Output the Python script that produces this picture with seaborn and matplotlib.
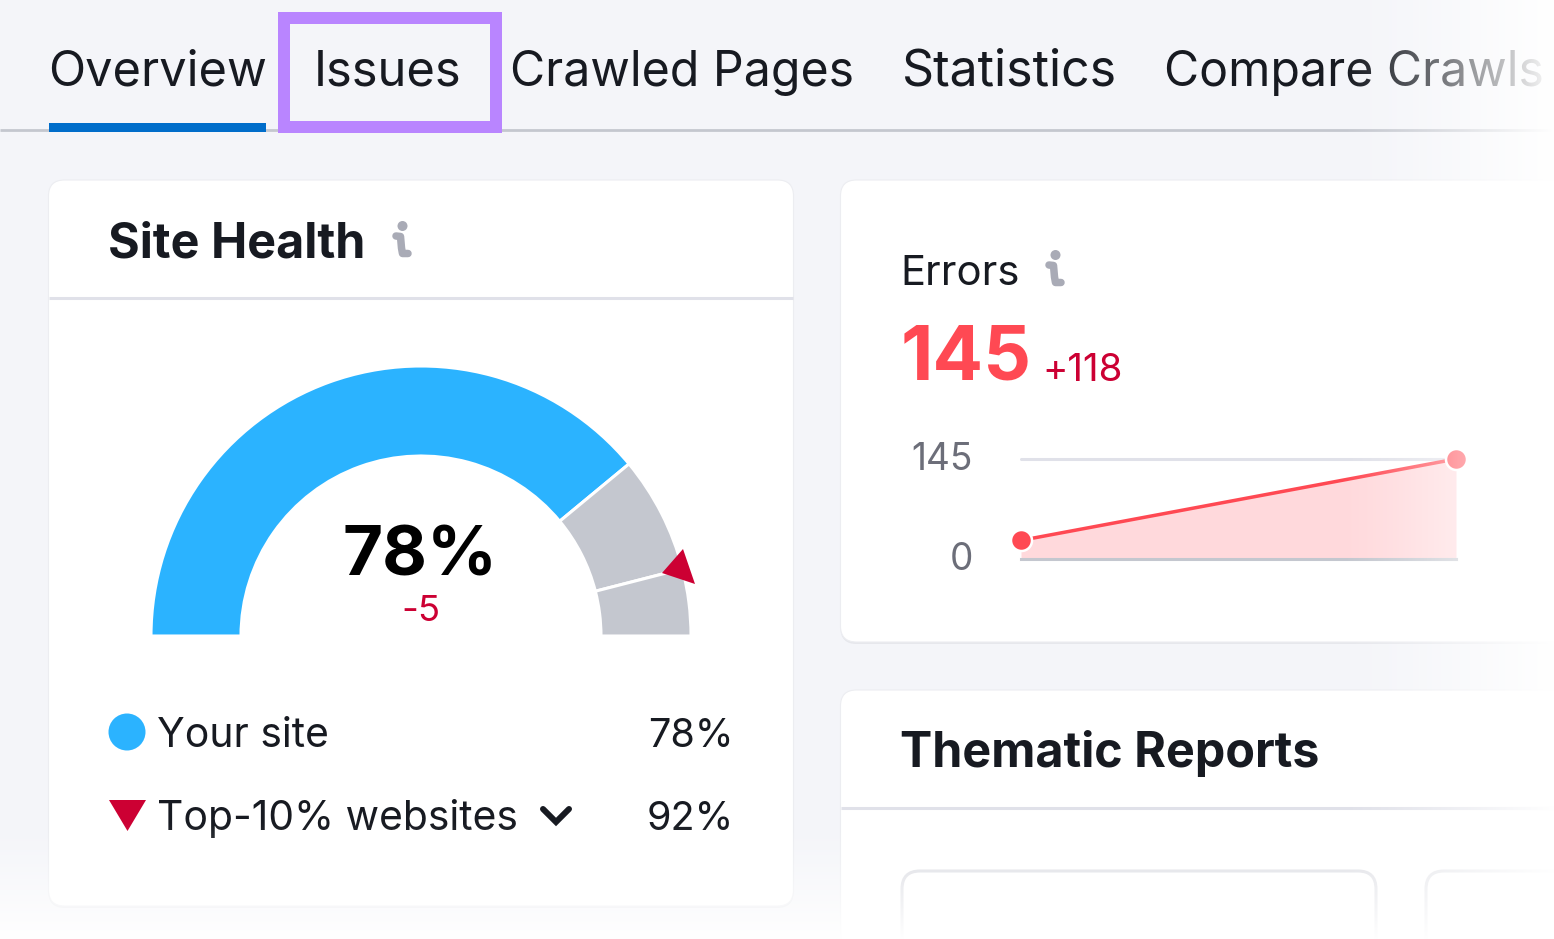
import numpy as np
import pandas as pd
import matplotlib
matplotlib.use("Agg")
import matplotlib.pyplot as plt
from matplotlib.patches import FancyBboxPatch, Polygon, Rectangle, Circle
from matplotlib.transforms import ScaledTranslation
import seaborn as sns

# ---- data ----
tab_labels = ["Overview", "Issues", "Crawled Pages", "Statistics", "Compare Crawls"]
gauge_parts = ["Your site", "Gap to top-10%", "Rest", "Hidden"]
gauge_values = [78, 14, 8, 100]
site_score = "78%"
site_delta = "-5"
legend_labels = ["Your site", "Top-10% websites"]
legend_values = ["78%", "92%"]
errors_title = "Errors"
errors_total = "145"
errors_delta = "+118"
crawl_index = [0, 1]
crawl_errors = [27, 145]
error_ticks = [0, 145]
panel_titles = ["Site Health", "Thematic Reports"]

W, H = 1554, 939
BG = "#F4F5F9"
INK = "#171A21"
BLUE = "#2BB3FF"
GREY = "#C4C7CF"
RED = "#FF4953"
CRIMSON = "#CC0033"
LINE = "#E0E1E9"
ICON = "#A9ABB6"

sns.set_theme(style="white")
plt.rcParams["font.family"] = ["Inter", "DejaVu Sans"]

def pt(px):
    return px * 0.72

fig = plt.figure(figsize=(W / 100, H / 100), dpi=100, facecolor=BG)

def box(l, t, r, b):
    return [l / W, 1 - b / H, (r - l) / W, (b - t) / H]

base = fig.add_axes([0, 0, 1, 1], zorder=0)
base.set_xlim(0, W)
base.set_ylim(H, 0)
base.axis("off")
base.add_patch(Rectangle((0, 0), W, H, fc=BG, ec="none"))

def card(l, t, r, b, rad=16):
    base.add_patch(FancyBboxPatch((l, t + 2), r - l, b - t, boxstyle=f"round,pad=0,rounding_size={rad}",
                                  fc="#E6E7EC", ec="none"))
    base.add_patch(FancyBboxPatch((l, t), r - l, b - t, boxstyle=f"round,pad=0,rounding_size={rad}",
                                  fc="white", ec="#ECEDF1", lw=0.8))

card(48.5, 180, 793.5, 906)
card(840.5, 180, 1620, 642)
card(840.5, 690, 1620, 1040)
base.add_patch(FancyBboxPatch((902, 871), 474, 200, boxstyle="round,pad=0,rounding_size=18",
                              fc="white", ec="#DCDDE3", lw=2.2))
base.add_patch(FancyBboxPatch((1426, 871), 300, 200, boxstyle="round,pad=0,rounding_size=18",
                              fc="white", ec="#DCDDE3", lw=2.2))
base.plot([49, 793], [298, 298], color=LINE, lw=2.2, solid_capstyle="butt")
base.plot([841, W], [808, 808], color=LINE, lw=2.2, solid_capstyle="butt")

# tabs
base.plot([0, W], [130, 130], color=GREY, lw=2, solid_capstyle="butt")
base.add_patch(Rectangle((49, 123), 217, 9, fc="#006DCA", ec="none", zorder=3))
tab_x = [48.5, 314, 509.5, 902, 1164.5]
tab_px = [48.7, 48.9, 48.2, 50, 48.2]
for x, label, size in zip(tab_x, tab_labels, tab_px):
    base.text(x, 86, label, fontsize=pt(size), color=INK, va="baseline", ha="left")

# titles
base.text(108.5, 257, panel_titles[0], fontsize=pt(48.5), fontweight="bold", color=INK, va="baseline")
base.text(900.5, 767, panel_titles[1], fontsize=pt(48.4), fontweight="bold", color=INK, va="baseline")

def info_icon(x, y):
    base.add_patch(Circle((x + 0.5, y - 18), 5, fc=ICON, ec="none"))
    base.plot([x - 6, x - 1.5, x - 0.5, x + 0.5, x + 6], [y - 8, y - 7.5, y + 4, y + 9.5, y + 9.5],
              color=ICON, lw=pt(7.5), solid_joinstyle="round", solid_capstyle="round")

info_icon(402, 244)
info_icon(1055, 273)

# errors header
base.text(900.5, 285, errors_title, fontsize=pt(41.8), color=INK, va="baseline")
base.text(901, 380, errors_total, fontsize=pt(75), fontweight="bold", color=RED, va="baseline")
base.text(1042.5, 381, errors_delta, fontsize=pt(38.5), color=CRIMSON, va="baseline")

# gauge, drawn from its values
R = 270
CY = 636
gauge = fig.add_axes(box(421 - R, CY - R, 421 + R, CY + R), zorder=1)
wedges, _ = gauge.pie(gauge_values, startangle=180, counterclock=False, radius=1,
                      colors=[BLUE, GREY, GREY, "none"],
                      wedgeprops=dict(width=90 / R, edgecolor="white", linewidth=2.2))
wedges[-1].set_visible(False)
gauge.set_xlim(-1, 1)
gauge.set_ylim(-1, 1)
gauge.axis("off")
gauge.patch.set_alpha(0)

fg = fig.add_axes([0, 0, 1, 1], zorder=2)
fg.set_xlim(0, W)
fg.set_ylim(H, 0)
fg.axis("off")
fg.patch.set_alpha(0)
fg.add_patch(Polygon([(662, 573), (683, 549), (695, 584)], fc=CRIMSON, ec="none"))
fg.text(420, 576, site_score, fontsize=pt(69), fontweight="bold", color="black", ha="center", va="baseline")
fg.text(421, 621, site_delta, fontsize=pt(36.5), color=CRIMSON, ha="center", va="baseline")

# legend
fg.add_patch(Circle((127, 732), 18.5, fc=BLUE, ec="none"))
fg.add_patch(Polygon([(109, 800), (146, 800), (127.5, 831)], fc=CRIMSON, ec="none"))
for y, label, val in zip([747, 830], legend_labels, legend_values):
    fg.text(157, y, label, fontsize=pt(40.8), color=INK, va="baseline")
    fg.text(734, y, val, fontsize=pt(39.5), color=INK, va="baseline", ha="right")
fg.plot([543, 556, 569], [809, 822, 809], color=INK, lw=pt(6), solid_capstyle="round", solid_joinstyle="miter")

# sparkline
spark = fig.add_axes(box(1021, 459, 1456, 559), zorder=1)
spark.patch.set_alpha(0)
df = pd.DataFrame({"crawl": crawl_index, "errors": crawl_errors})
spark.fill_between(df["crawl"], df["errors"], 0, color="#FFD9DC", lw=0, zorder=1)
sns.lineplot(data=df, x="crawl", y="errors", ax=spark, color=RED, lw=pt(3.5), zorder=2,
             marker="o", markersize=pt(21), markeredgecolor="white", markeredgewidth=pt(2.5),
             clip_on=False, errorbar=None)
spark.set_xlim(0, 1)
spark.set_ylim(0, 145)
spark.set_xlabel("")
spark.set_ylabel("")
spark.set_xticks([])
spark.set_yticks(error_ticks)
spark.set_yticklabels([str(v) for v in error_ticks], fontsize=pt(37), color="#6C6E79")
spark.tick_params(axis="y", length=0, pad=pt(48))
for lab in spark.get_yticklabels():
    lab.set_transform(lab.get_transform() + ScaledTranslation(0, pt(3) / 72, fig.dpi_scale_trans))
for s in spark.spines.values():
    s.set_visible(False)
spark.spines["bottom"].set_visible(True)
spark.spines["bottom"].set_color(GREY)
spark.spines["bottom"].set_linewidth(2.2)
spark.axhline(145, color=LINE, lw=2.2, zorder=0, clip_on=False)

# white fade towards the right and bottom edges
xx, yy = np.meshgrid(np.arange(W) + 0.5, np.arange(H) + 0.5)
fx = np.clip((xx - 1340) / (1554 - 1340), 0, 1) ** 1.2
fy = np.clip((yy - 820) / (939 - 820), 0, 1) ** 1.3
alpha = 1 - (1 - fx) * (1 - fy)
rgba = np.ones((H, W, 4))
rgba[..., 3] = alpha
fade = fig.add_axes([0, 0, 1, 1], zorder=5)
fade.imshow(rgba, extent=(0, W, H, 0), aspect="auto", interpolation="nearest")
fade.axis("off")
fade.patch.set_alpha(0)

# highlight around the Issues tab sits above the fade
top = fig.add_axes([0, 0, 1, 1], zorder=6)
top.set_xlim(0, W)
top.set_ylim(H, 0)
top.axis("off")
top.patch.set_alpha(0)
top.add_patch(Rectangle((284, 18), 212, 109, fc="none", ec="#B985FF", lw=pt(12), joinstyle="miter"))

fig.savefig("out.png", dpi=100, facecolor=BG)
